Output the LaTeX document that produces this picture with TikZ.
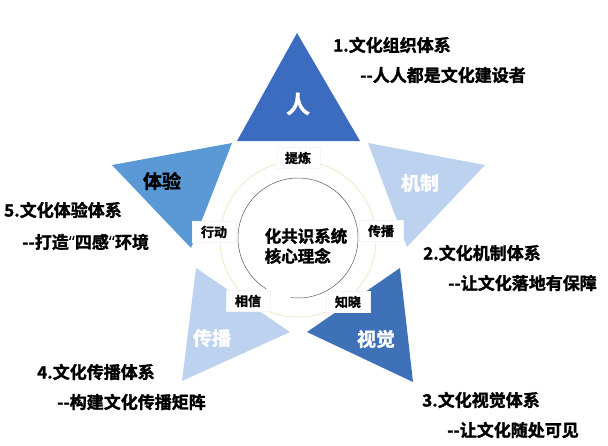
\documentclass[tikz,border=0pt]{standalone}
\usepackage{fontspec}
\setmainfont{Noto Sans CJK SC}[BoldFont={Noto Sans CJK SC Bold},BoldFeatures={FakeBold=1.6}]
\newfontfamily\lateinisch{Noto Sans}[BoldFeatures={FakeBold=1.6}]
\usepackage{tikz}
\usetikzlibrary{backgrounds}
\definecolor{blaudunkel}{RGB}{59,108,192}
\definecolor{blaumittel}{RGB}{90,153,214}
\definecolor{blauhell}{RGB}{188,210,239}
\definecolor{blausicht}{RGB}{62,113,184}
\definecolor{kreisgelb}{RGB}{240,232,200}
\newcommand{\anf}{{\lateinisch\bfseries“}}

\begin{document}
\begin{tikzpicture}[x=1pt,y=1pt,
  titel/.style={anchor=west,inner sep=0pt,font=\fontsize{17}{17}\selectfont\bfseries},
  etikett/.style={fill=white,draw=black!4,minimum width=44pt,minimum height=21pt,inner sep=1pt,font=\fontsize{13}{13}\selectfont\bfseries},
  ecke/.style={font=\fontsize{19}{19}\selectfont\bfseries,text=white}]
\useasboundingbox (0,0) rectangle (608,-445);
\fill[white] (0,0) rectangle (608,-445);
% die fuenf Dreiecke
\fill[blaudunkel] (297,-33) -- (237,-141) -- (360,-141) -- cycle;
\fill[blaumittel] (112,-165) -- (232,-143) -- (191,-248) -- cycle;
\fill[blauhell] (368,-143) -- (485,-165) -- (407,-247) -- cycle;
\fill[blauhell] (196,-268) -- (290,-332) -- (182,-381) -- cycle;
\fill[blausicht] (400,-268) -- (307,-332) -- (413,-382) -- cycle;
\node[ecke,font=\fontsize{24}{24}\selectfont\bfseries] (ren) at (298,-104) {人};
\node[ecke,text=black] (tiyan) at (162,-181) {体验};
\node[ecke] (jizhi) at (420,-183) {机制};
\node[ecke] (chuanbo) at (212,-338) {传播};
\node[ecke] (shijue) at (376,-339) {视觉};
% Kreise in der Mitte
\draw[kreisgelb,line width=0.8pt] (298,-239) circle (78);
\draw[black!65,line width=0.5pt] (298,-238) ++(-97:60) arc (-97:238:60);
\node[align=left,inner sep=0pt,font=\fontsize{16.5}{20}\selectfont\bfseries] (kern) at (306,-246) {化共识系统\\核心理念};
\node[etikett] (tilian) at (298,-158) {提炼};
\node[etikett] (chuan) at (381,-231) {传播};
\node[etikett] (zhixiao) at (348,-302) {知晓};
\node[etikett] (xiangxin) at (248,-301) {相信};
\node[etikett] (xingdong) at (214,-232) {行动};
% Beschriftungen aussen
\node[titel] (t1) at (333,-45) {1.文化组织体系};
\node[titel] (u1) at (360,-75) {-{}-人人都是文化建设者};
\node[titel] (t2) at (423,-253) {2.文化机制体系};
\node[titel] (u2) at (448,-283) {-{}-让文化落地有保障};
\node[titel] (t3) at (422,-400) {3.文化视觉体系};
\node[titel] (u3) at (447,-430) {-{}-让文化随处可见};
\node[titel] (t4) at (37,-372) {4.文化传播体系};
\node[titel] (u4) at (57,-402) {-{}-构建文化传播矩阵};
\node[titel] (t5) at (4,-210) {5.文化体验体系};
\node[titel] (u5) at (22,-242) {-{}-打造\anf 四感\anf 环境};
\end{tikzpicture}
\end{document}
